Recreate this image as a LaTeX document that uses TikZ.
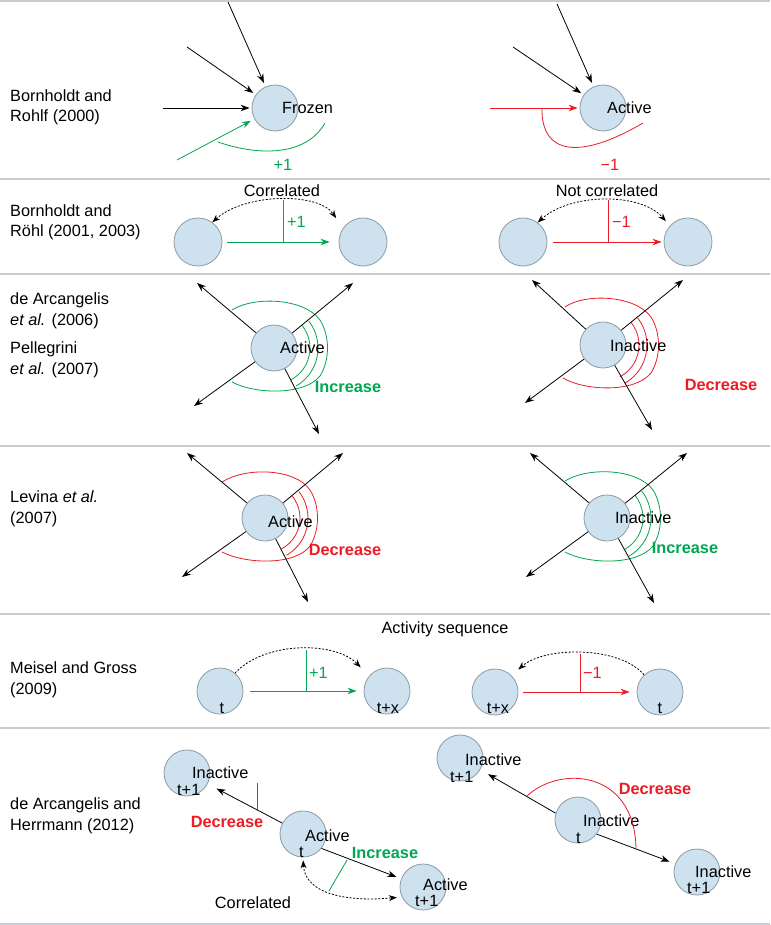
\documentclass[tikz,border=0pt]{standalone}
\usepackage{fontspec}
\setmainfont{Liberation Sans}
\usetikzlibrary{arrows.meta}
\definecolor{cfill}{RGB}{206,225,239}
\definecolor{cline}{RGB}{140,155,166}
\definecolor{gr}{RGB}{0,166,81}
\definecolor{rd}{RGB}{237,28,36}
\definecolor{sepc}{RGB}{200,205,211}
\begin{document}
\begin{tikzpicture}[x=1pt,y=-1pt,
  font=\fontsize{16.3}{20.5}\selectfont,
  cell/.style={circle, draw=cline, fill=cfill, line width=0.8pt, minimum size=46pt, inner sep=0pt},
  txt/.style={inner sep=0pt, anchor=west},
  lab/.style={inner sep=0pt, anchor=west, align=left},
  arr/.style={-{Stealth[length=9pt,width=6.5pt]}, line width=0.8pt},
  darr/.style={line width=0.8pt, dash pattern=on 2pt off 1.6pt},
  sepline/.style={draw=sepc, line width=1.5pt},
  grn/.style={draw=gr, line width=0.8pt},
  redl/.style={draw=rd, line width=0.8pt},
  gtxt/.style={text=gr, font=\fontsize{16.3}{20}\selectfont\bfseries, inner sep=0pt},
  rtxt/.style={text=rd, font=\fontsize{16.3}{20}\selectfont\bfseries, inner sep=0pt}
]
\useasboundingbox (0,0) rectangle (770,925);
\fill[white] (0,0) rectangle (770,925);

% separators
\foreach \yy in {1,179,274,446,614,728,924}
  \draw[sepline] (0,\yy) -- (770,\yy);

% left labels
\node[lab] (l1) at (10,107.5) {Bornholdt and\\Rohlf (2000)};
\node[lab] (l2) at (10,222.5) {Bornholdt and\\Röhl (2001, 2003)};
\node[lab] (l3a) at (10,311) {de Arcangelis\\{\itshape et al.} (2006)};
\node[lab] (l3b) at (10,360) {Pellegrini\\{\itshape et al.} (2007)};
\node[lab] (l4) at (10,509) {Levina {\itshape et al.}\\(2007)};
\node[lab] (l5) at (10,680) {Meisel and Gross\\(2009)};
\node[lab] (l6) at (10,816) {de Arcangelis and\\Herrmann (2012)};

% ---------- Row 1 ----------
\node[cell] (fz) at (275,108) {};
\node[txt] (fzt) at (282,108) {Frozen};
\coordinate (f1) at (228,2);
\coordinate (f2) at (187,47);
\coordinate (f3) at (163,108);
\coordinate (f4) at (177,160);
\draw[arr, shorten >=4pt] (f1) -- (fz);
\draw[arr, shorten >=3pt] (f2) -- (fz);
\draw[arr, shorten >=2pt] (f3) -- (fz);
\draw[arr, draw=gr, -{Stealth[length=9pt,width=6.5pt,fill=gr]}, shorten >=4pt] (f4) -- (fz);
\draw[grn] (218,142) .. controls (255,155) and (305,158) .. (325,123);
\node[text=gr, inner sep=0pt] (p1) at (283,165) {+1};

\node[cell] (ac) at (603,108) {};
\node[txt] (act) at (607,108) {Active};
\coordinate (a1) at (557,4);
\coordinate (a2) at (513,47);
\coordinate (a3) at (490,108);
\draw[arr, shorten >=4pt] (a1) -- (ac);
\draw[arr, shorten >=3pt] (a2) -- (ac);
\draw[arr, draw=rd, -{Stealth[length=9pt,width=6.5pt,fill=rd]}, shorten >=2pt] (a3) -- (ac);
\draw[redl] (542,108) .. controls (541,155) and (580,160) .. (643,123);
\node[text=rd, inner sep=0pt] (m1) at (610,165) {−1};

% ---------- Row 2 ----------
\node[cell, minimum size=48pt] (L2a) at (198,242) {};
\node[cell, minimum size=48pt] (L2b) at (363,242) {};
\node[inner sep=0pt] (c2) at (282,191) {Correlated};
\draw[arr, draw=gr, -{Stealth[length=9pt,width=6.5pt,fill=gr]}, shorten <=5pt, shorten >=9pt] (L2a) -- (L2b);
\draw[grn] (283,200) -- (283,242);
\node[text=gr, inner sep=0pt, anchor=west] (p2) at (287,222) {+1};
\draw[darr, {Stealth[length=8pt,width=6pt]}-{Stealth[length=8pt,width=6pt]}, shorten >=12pt]
  (L2a.54) .. controls (245,193) and (318,192) .. (L2b.145);

\node[cell, minimum size=48pt] (R2a) at (523,242) {};
\node[cell, minimum size=48pt] (R2b) at (688,242) {};
\node[inner sep=0pt] (nc2) at (607,191) {Not correlated};
\draw[arr, draw=rd, -{Stealth[length=9pt,width=6.5pt,fill=rd]}, shorten <=6pt, shorten >=2pt] (R2a) -- (R2b);
\draw[redl] (608,200) -- (608,242);
\node[text=rd, inner sep=0pt, anchor=west] (m2) at (612,222) {−1};
\draw[darr, {Stealth[length=8pt,width=6pt]}-{Stealth[length=8pt,width=6pt]}, shorten >=6pt]
  (R2a.53) .. controls (570,193) and (640,192) .. (R2b.138);

% ---------- Row 3 & 4 hubs ----------
% row 3 left
\begin{scope}[shift={(274,348)}]
\node[cell] (h3l) at (0,0) {};
\coordinate (h3l-nw) at (-77,-65);
\coordinate (h3l-ne) at (79,-65);
\coordinate (h3l-sw) at (-80,58);
\coordinate (h3l-se) at (45,86);
\draw[grn] (-42,-38) .. controls (-20,-52) and (30,-50) .. (46,-28) .. controls (56,-12) and (56,12) .. (46,28) .. controls (30,48) and (-20,46) .. (-42,34);
\draw[grn] (-39:36) arc[start angle=-39, end angle=62, radius=36];
\draw[grn] (-38:44) arc[start angle=-38, end angle=60, radius=44];
\draw[arr] (h3l) -- (h3l-nw);
\draw[arr] (h3l) -- (h3l-ne);
\draw[arr] (h3l) -- (h3l-sw);
\draw[arr] (h3l) -- (h3l-se);
\node[txt] (h3lt) at (6,0) {Active};
\node[gtxt] (h3li) at (74,39) {Increase};
\end{scope}
% row 3 right
\begin{scope}[shift={(603,345)}]
\node[cell] (h3r) at (0,0) {};
\coordinate (h3r-nw) at (-71,-65);
\coordinate (h3r-ne) at (80,-65);
\coordinate (h3r-sw) at (-78,58);
\coordinate (h3r-se) at (49,85);
\draw[redl] (-38,-38) .. controls (-18,-52) and (32,-50) .. (48,-28) .. controls (58,-12) and (58,12) .. (48,28) .. controls (32,48) and (-18,46) .. (-40,33);
\draw[redl] (-39:36) arc[start angle=-39, end angle=62, radius=36];
\draw[redl] (-38:44) arc[start angle=-38, end angle=60, radius=44];
\draw[arr] (h3r) -- (h3r-nw);
\draw[arr] (h3r) -- (h3r-ne);
\draw[arr] (h3r) -- (h3r-sw);
\draw[arr] (h3r) -- (h3r-se);
\node[txt] (h3rt) at (7,1) {Inactive};
\node[rtxt] (h3rd) at (118,40) {Decrease};
\end{scope}
% row 4 left
\begin{scope}[shift={(265,518)}]
\node[cell] (h4l) at (0,0) {};
\coordinate (h4l-nw) at (-78,-65);
\coordinate (h4l-ne) at (78,-65);
\coordinate (h4l-sw) at (-83,59);
\coordinate (h4l-se) at (43,84);
\draw[redl] (-43,-36) .. controls (-20,-51) and (30,-50) .. (45,-28) .. controls (55,-12) and (55,12) .. (45,28) .. controls (30,48) and (-20,46) .. (-43,34);
\draw[redl] (-39:35) arc[start angle=-39, end angle=62, radius=35];
\draw[redl] (-38:43) arc[start angle=-38, end angle=60, radius=43];
\draw[arr] (h4l) -- (h4l-nw);
\draw[arr] (h4l) -- (h4l-ne);
\draw[arr] (h4l) -- (h4l-sw);
\draw[arr] (h4l) -- (h4l-se);
\node[txt] (h4lt) at (3,4) {Active};
\node[rtxt] (h4ld) at (80,32) {Decrease};
\end{scope}
% row 4 right
\begin{scope}[shift={(607,518)}]
\node[cell] (h4r) at (0,0) {};
\coordinate (h4r-nw) at (-77,-65);
\coordinate (h4r-ne) at (80,-65);
\coordinate (h4r-sw) at (-81,59);
\coordinate (h4r-se) at (47,85);
\draw[grn] (-42,-37) .. controls (-20,-51) and (30,-50) .. (46,-28) .. controls (56,-12) and (56,12) .. (46,28) .. controls (30,48) and (-20,46) .. (-42,34);
\draw[grn] (-39:36) arc[start angle=-39, end angle=62, radius=36];
\draw[grn] (-38:44) arc[start angle=-38, end angle=60, radius=44];
\draw[arr] (h4r) -- (h4r-nw);
\draw[arr] (h4r) -- (h4r-ne);
\draw[arr] (h4r) -- (h4r-sw);
\draw[arr] (h4r) -- (h4r-se);
\node[txt] (h4rt) at (8,0) {Inactive};
\node[gtxt] (h4ri) at (78,30) {Increase};
\end{scope}

% ---------- Row 5 ----------
\node[inner sep=0pt] (as) at (445,629) {Activity sequence};
\node[cell] (L5a) at (220,691) {};
\node[cell] (L5b) at (387,691) {};
\node[inner sep=0pt] (L5at) at (222,708) {t};
\node[inner sep=0pt] (L5bt) at (388,708) {t+x};
\draw[arr, draw=gr, -{Stealth[length=9pt,width=6.5pt,fill=gr]}, shorten <=7pt, shorten >=7pt] (L5a) -- (L5b);
\draw[grn] (306,650) -- (306,691);
\node[text=gr, inner sep=0pt, anchor=west] (p5) at (309,673) {+1};
\draw[darr, -{Stealth[length=8pt,width=6pt]}, shorten >=12pt]
  (L5a.50) .. controls (265,641) and (335,641) .. (L5b.140);

\node[cell] (R5a) at (495,692) {};
\node[cell] (R5b) at (660,692) {};
\node[inner sep=0pt] (R5at) at (498,708) {t+x};
\node[inner sep=0pt] (R5bt) at (660,708) {t};
\draw[arr, draw=rd, -{Stealth[length=9pt,width=6.5pt,fill=rd]}, shorten <=5pt, shorten >=7pt] (R5a) -- (R5b);
\draw[redl] (580,654) -- (580,692);
\node[text=rd, inner sep=0pt, anchor=west] (m5) at (583,673) {−1};
\draw[darr, -{Stealth[length=8pt,width=6pt]}, shorten >=9pt]
  (R5b.133) .. controls (620,646) and (545,646) .. (R5a.45);

% ---------- Row 6 ----------
\node[cell] (A) at (187,773) {};
\node[cell] (B) at (303,834) {};
\node[cell] (C) at (423,887) {};
\node[txt] (At) at (192,773) {Inactive};
\node[txt] (At2) at (177,790) {t+1};
\node[txt] (Bt) at (305,836) {Active};
\node[txt] (Bt2) at (299,852) {t};
\node[txt] (Ct) at (423,885) {Active};
\node[txt] (Ct2) at (415,901) {t+1};
\draw[arr, shorten >=10pt] (B) -- (A);
\draw[arr, shorten >=5pt] (B.-38) -- (C);
\draw[redl] (257,783) -- (257,810);
\node[rtxt] (Bd) at (227,822) {Decrease};
\draw[grn] (329,891) -- (347,860);
\node[gtxt] (Bi) at (385,853) {Increase};
\draw[darr, {Stealth[length=8pt,width=6pt]}-{Stealth[length=8pt,width=6pt]}, shorten <=3pt, shorten >=5pt]
  (B.south) .. controls (305,895) and (350,902) .. (C.205);
\node[inner sep=0pt] (corr6) at (253,903) {Correlated};

\node[cell] (D) at (460,758) {};
\node[cell] (E) at (578,820) {};
\node[cell] (F) at (697,872) {};
\node[txt] (Dt) at (465,760) {Inactive};
\node[txt] (Dt2) at (450,777) {t+1};
\node[txt] (Et) at (583,821) {Inactive};
\node[txt] (Et2) at (576,838) {t};
\node[txt] (Ft) at (695,872) {Inactive};
\node[txt] (Ft2) at (687,888) {t+1};
\draw[arr, shorten >=9pt] (E.163) -- (D);
\draw[arr, shorten >=6pt] (E.-37) -- (F);
\draw[redl] (527,796) .. controls (560,765) and (635,770) .. (636,849);
\node[rtxt] (Ed) at (655,789) {Decrease};
\end{tikzpicture}
\end{document}
